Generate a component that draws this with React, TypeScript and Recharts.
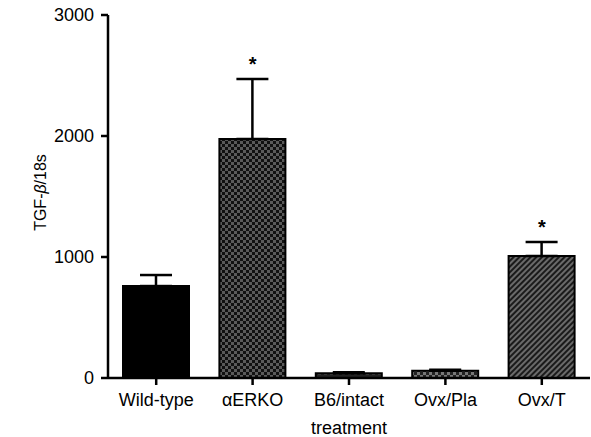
import React from "react";
import { BarChart, Bar, XAxis, YAxis, ErrorBar, Cell, ReferenceDot } from "recharts";

const groups = ["Wild-type", "αERKO", "B6/intact", "Ovx/Pla", "Ovx/T"];
const means = [760, 1975, 40, 60, 1008];
const sems = [91, 496, 8, 8, 116];
const fills = ["#000", "url(#checker)", "url(#dark)", "url(#checkerLight)", "url(#hatch)"];
const starred = ["αERKO", "Ovx/T"];
const yTicks = [0, 1000, 2000, 3000];

const data = groups.map((g, i) => ({ name: g, value: means[i], err: [0, sems[i]] }));

const font = "'Liberation Sans', Arial, Helvetica, sans-serif";

const YLabel = ({ viewBox }: any) => {
  const cx = 40;
  const cy = viewBox.y + viewBox.height / 2 - 4;
  return (
    <text
      x={cx}
      y={cy}
      transform={`rotate(-90 ${cx} ${cy})`}
      textAnchor="middle"
      dominantBaseline="central"
      fontSize={16}
      fontFamily={font}
      fill="#000"
      style={{ fill: "#000" }}
    >
      TGF-<tspan fontStyle="italic">β</tspan>/18s
    </text>
  );
};

const XLabel = ({ viewBox }: any) => (
  <text
    x={viewBox.x + viewBox.width / 2}
    y={viewBox.y + 56}
    textAnchor="middle"
    fontSize={18}
    fontFamily={font}
    fill="#000"
  >
    treatment
  </text>
);

const Star = ({ viewBox }: any) => (
  <text
    x={viewBox.x + viewBox.width / 2}
    y={viewBox.y - 8}
    textAnchor="middle"
    fontSize={20}
    fontWeight="bold"
    fontFamily={font}
    fill="#000"
  >
    *
  </text>
);

export default function App() {
  return (
    <div style={{ position: "absolute", left: 0, top: 0, background: "#fff" }}>
      <BarChart
        width={591}
        height={437}
        data={data}
        margin={{ top: 15, right: 1, left: 0, bottom: 0 }}
        barSize={66}
      >
        <defs>
          <pattern id="checker" width="6" height="6" patternUnits="userSpaceOnUse">
            <rect width="6" height="6" fill="#5a5a5a" />
            <rect width="3" height="3" fill="#111" />
            <rect x="3" y="3" width="3" height="3" fill="#111" />
          </pattern>
          <pattern id="checkerLight" width="6" height="6" patternUnits="userSpaceOnUse">
            <rect width="6" height="6" fill="#777" />
            <rect width="3" height="3" fill="#222" />
            <rect x="3" y="3" width="3" height="3" fill="#222" />
          </pattern>
          <pattern id="dark" width="6" height="6" patternUnits="userSpaceOnUse">
            <rect width="6" height="6" fill="#222" />
            <rect width="3" height="3" fill="#444" />
          </pattern>
          <pattern id="hatch" width="4" height="4" patternUnits="userSpaceOnUse" patternTransform="rotate(45)">
            <rect width="4" height="4" fill="#6a6a6a" />
            <rect width="2" height="4" fill="#1a1a1a" />
          </pattern>
        </defs>
        <XAxis
          dataKey="name"
          axisLine={{ stroke: "#000", strokeWidth: 2.5 }}
          tickLine={{ stroke: "#000", strokeWidth: 2.5 }}
          tickSize={7}
          tickMargin={8}
          height={59}
          tick={{ fill: "#000", fontSize: 18, fontFamily: font }}
          interval={0}
          label={<XLabel />}
        />
        <YAxis
          domain={[0, 3000]}
          ticks={yTicks}
          width={108}
          axisLine={{ stroke: "#000", strokeWidth: 2.5 }}
          tickLine={{ stroke: "#000", strokeWidth: 2.5 }}
          tickSize={7}
          tickMargin={7}
          tick={{ fill: "#000", fontSize: 18, fontFamily: font }}
          label={<YLabel />}
        />
        <Bar dataKey="value" stroke="#000" strokeWidth={2} isAnimationActive={false}>
          {data.map((d, i) => (
            <Cell key={d.name} fill={fills[i]} />
          ))}
          <ErrorBar dataKey="err" width={16} stroke="#000" strokeWidth={2.5} direction="y" />
        </Bar>
        {starred.map((g) => {
          const i = groups.indexOf(g);
          return (
            <ReferenceDot
              key={g}
              x={g}
              y={means[i] + sems[i]}
              r={0}
              stroke="none"
              fill="none"
              label={<Star />}
            />
          );
        })}
      </BarChart>
    </div>
  );
}
